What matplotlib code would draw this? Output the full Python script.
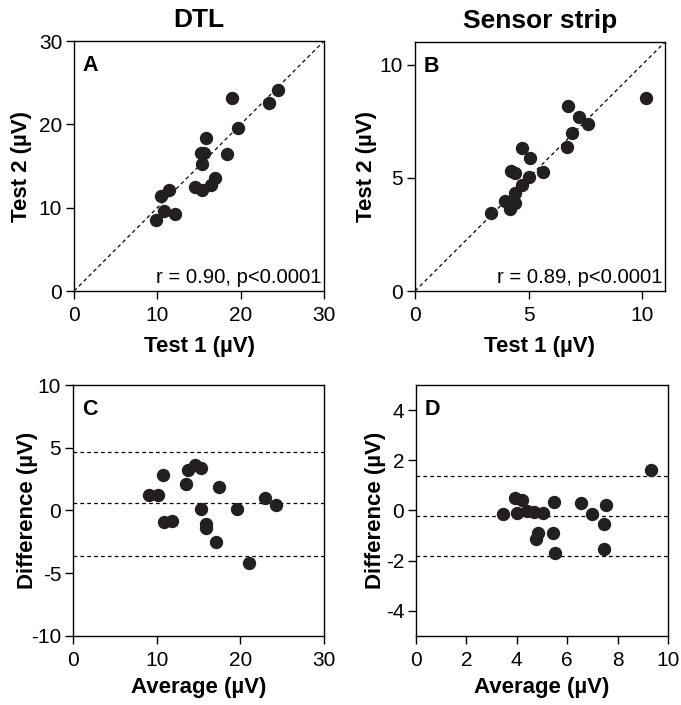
import matplotlib
matplotlib.use("Agg")
import matplotlib.pyplot as plt

plt.rcParams["font.family"] = ["Liberation Sans", "DejaVu Sans"]
plt.rcParams["axes.unicode_minus"] = False

# panel A: DTL test-retest
dtl_test1 = [9.8, 10.8, 12.1, 10.44, 11.44, 14.52, 15.36, 16.44, 16.96, 15.36,
             15.2, 15.6, 15.8, 18.32, 19.72, 18.92, 23.36, 24.52]
dtl_test2 = [8.56, 9.56, 9.28, 11.36, 12.16, 12.48, 12.08, 12.76, 13.6, 15.28,
             16.56, 16.56, 18.4, 16.48, 19.56, 23.2, 22.56, 24.16]

# panel B: sensor strip test-retest
strip_test1 = [3.34, 3.97, 4.17, 4.39, 4.41, 4.22, 4.39, 4.69, 5.01, 4.70,
               5.05, 5.64, 6.71, 6.73, 6.93, 7.2, 7.63, 10.18]
strip_test2 = [3.43, 3.99, 3.62, 4.31, 3.91, 5.29, 5.23, 4.68, 5.02, 6.31,
               5.86, 5.27, 6.38, 8.18, 7.0, 7.68, 7.39, 8.52]

# panel C: DTL Bland-Altman
dtl_avg = [9.14, 10.2, 10.73, 10.93, 11.88, 13.47, 13.7, 14.58, 15.34, 15.34,
           15.85, 15.89, 17.08, 17.48, 19.59, 21.06, 22.92, 24.3]
dtl_diff = [1.25, 1.25, 2.79, -0.93, -0.8, 2.12, 3.24, 3.64, 3.37, 0.13,
            -1.06, -1.41, -2.5, 1.91, 0.13, -4.2, 0.98, 0.4]
dtl_lines = [4.70, 0.58, -3.64]

# panel D: sensor strip Bland-Altman
strip_avg = [3.44, 3.91, 4.2, 4.0, 4.39, 4.7, 5.05, 4.83, 4.75, 5.47,
             5.45, 5.51, 6.54, 6.99, 7.53, 7.47, 7.47, 9.34]
strip_diff = [-0.15, 0.49, 0.43, -0.11, -0.04, -0.08, -0.11, -0.91, -1.13, 0.32,
              -0.91, -1.68, 0.29, -0.13, 0.2, -0.53, -1.52, 1.63]
strip_lines = [1.39, -0.2, -1.83]

dot = "#231f20"
tick_fs = 15
label_fs = 16

fig = plt.figure(figsize=(6.81, 7.05), dpi=100)
axA = fig.add_axes([0.1087, 0.5872, 0.3671, 0.3546])
axB = fig.add_axes([0.6094, 0.5872, 0.3671, 0.3532])
axC = fig.add_axes([0.1072, 0.0979, 0.3686, 0.3560])
axD = fig.add_axes([0.6109, 0.0979, 0.3700, 0.3560])


def style(ax, letter, ylab_x):
    ax.tick_params(direction="out", length=5.5, width=1, labelsize=tick_fs, pad=3)
    ax.tick_params(axis="x", pad=5)
    for s in ax.spines.values():
        s.set_linewidth(1)
    ax.yaxis.set_label_coords(ylab_x, 0.5)
    ax.text(0.035, 0.945, letter, transform=ax.transAxes, fontsize=15.5,
            fontweight="bold", va="top", ha="left")


# scatter panels
for ax, t1, t2, lim, ticks, letter, title, rtxt, ylx in [
    (axA, dtl_test1, dtl_test2, 30, [0, 10, 20, 30], "A", "DTL",
     "r = 0.90, p<0.0001", -0.168),
    (axB, strip_test1, strip_test2, 11, [0, 5, 10], "B", "Sensor strip",
     "r = 0.89, p<0.0001", -0.152),
]:
    ax.plot([0, lim], [0, lim], color="black", lw=0.9, ls=(0, (3, 2.5)), zorder=1)
    ax.plot(t1, t2, "o", color=dot, markersize=8.6, zorder=3)
    ax.set_xlim(0, lim)
    ax.set_ylim(0, lim)
    ax.set_xticks(ticks)
    ax.set_yticks(ticks)
    ax.set_xlabel("Test 1 (\u00b5V)", fontsize=label_fs, fontweight="bold", labelpad=8)
    ax.set_ylabel("Test 2 (\u00b5V)", fontsize=label_fs, fontweight="bold")
    ax.set_title(title, fontsize=19, fontweight="bold", pad=10)
    ax.text(0.99, 0.032, rtxt, transform=ax.transAxes, fontsize=14.6,
            ha="right", va="baseline")
    style(ax, letter, ylx)

# Bland-Altman panels
for ax, avg, diff, lines, xlim, xticks, ylim, yticks, letter, ylx in [
    (axC, dtl_avg, dtl_diff, dtl_lines, 30, [0, 10, 20, 30], 10,
     [-10, -5, 0, 5, 10], "C", -0.139),
    (axD, strip_avg, strip_diff, strip_lines, 10, [0, 2, 4, 6, 8, 10], 5,
     [-4, -2, 0, 2, 4], "D", -0.121),
]:
    for yv in lines:
        ax.axhline(yv, color="black", lw=0.9, ls=(0, (3, 2.5)), zorder=1)
    ax.plot(avg, diff, "o", color=dot, markersize=8.6, zorder=3)
    ax.set_xlim(0, xlim)
    ax.set_ylim(-ylim, ylim)
    ax.set_xticks(xticks)
    ax.set_yticks(yticks)
    ax.set_xlabel("Average (\u00b5V)", fontsize=label_fs, fontweight="bold", labelpad=5)
    ax.set_ylabel("Difference (\u00b5V)", fontsize=label_fs, fontweight="bold")
    style(ax, letter, ylx)

fig.savefig("out.png", dpi=100)
